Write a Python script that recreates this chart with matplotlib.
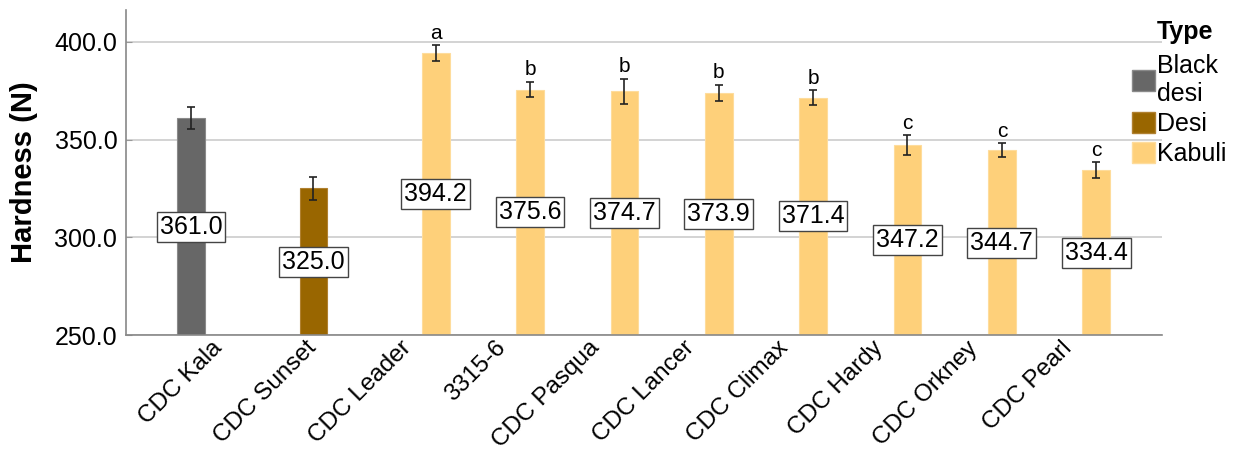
import numpy as np
import matplotlib.pyplot as plt
from matplotlib.patches import Patch

plt.rcParams['font.family'] = ['Liberation Sans', 'DejaVu Sans']

# hardness per cultivar
cultivars = ['CDC Kala', 'CDC Sunset', 'CDC Leader', '3315-6', 'CDC Pasqua',
             'CDC Lancer', 'CDC Climax', 'CDC Hardy', 'CDC Orkney', 'CDC Pearl']
types = ['Black desi', 'Desi', 'Kabuli', 'Kabuli', 'Kabuli',
         'Kabuli', 'Kabuli', 'Kabuli', 'Kabuli', 'Kabuli']
hardness = [361.0, 325.0, 394.2, 375.6, 374.7, 373.9, 371.4, 347.2, 344.7, 334.4]
err = [5.7, 5.8, 4.0, 4.0, 6.3, 4.0, 3.8, 5.0, 3.4, 4.0]
letters = ['', '', 'a', 'b', 'b', 'b', 'b', 'c', 'c', 'c']

type_names = ['Black desi', 'Desi', 'Kabuli']
type_colors = {'Black desi': '#676767', 'Desi': '#996600', 'Kabuli': '#FED07A'}
type_edges = {'Black desi': '#8a8a8a', 'Desi': '#b08030', 'Kabuli': '#fedc9c'}

base = 250.0
slot = 0.296

fig = plt.figure(figsize=(12.37, 4.54), dpi=100)
ax = fig.add_axes([0.1016, 0.2621, 0.8375, 0.716])

x = np.arange(len(cultivars))
for i, (t, h, e, lt) in enumerate(zip(types, hardness, err, letters)):
    # each cultivar gets three slots, the bar sits in its type's slot
    xi = x[i] + (type_names.index(t) - 1) * slot
    ax.bar(xi, h - base, bottom=base, width=0.293, color=type_colors[t],
           edgecolor=type_edges[t], linewidth=0.8, zorder=2)
    ax.errorbar(xi, h, yerr=e, fmt='none', ecolor='#222222', elinewidth=1.2,
                capsize=2.6, capthick=1.2, zorder=3)
    ax.text(xi, (h + base) / 2, f'{h:.1f}', ha='center', va='center', fontsize=18,
            bbox=dict(boxstyle='square,pad=0.12', fc='white', ec='#444444', lw=1),
            zorder=4)
    if lt:
        ax.annotate(lt, (xi, h + e), xytext=(0, 2), textcoords='offset points',
                    ha='center', va='bottom', fontsize=15, zorder=4)

ax.set_xlim(-0.99, 9.99)
ax.set_ylim(250, 416.4)
ax.set_yticks([250, 300, 350, 400])
ax.set_yticklabels([f'{v:.1f}' for v in [250, 300, 350, 400]], fontsize=18)
ax.set_xticks(x)
ax.set_xticklabels(cultivars, rotation=45, ha='right', va='center',
                   rotation_mode='anchor', fontsize=17.5)
ax.tick_params(axis='x', length=0, pad=7)
ax.tick_params(axis='y', direction='in', length=4, color='#999999', pad=6)
ax.yaxis.grid(True, color='#d0d0d0', linewidth=1.3, zorder=0)
ax.set_axisbelow(True)
for s in ['top', 'right']:
    ax.spines[s].set_visible(False)
for s in ['left', 'bottom']:
    ax.spines[s].set_color('#888888')
    ax.spines[s].set_linewidth(1.2)
ax.set_ylabel('Hardness (N)', fontsize=21, fontweight='bold', labelpad=12)

handles = [Patch(facecolor=type_colors[t], edgecolor=type_edges[t], linewidth=1)
           for t in type_names]
fig.text(1157 / 1237, 1 - 32 / 454, 'Type', fontsize=18, fontweight='bold',
         ha='left', va='center')
fig.legend(handles, ['Black\ndesi', 'Desi', 'Kabuli'], loc='upper left',
           bbox_to_anchor=(1132 / 1237, 1 - 54 / 454), frameon=False,
           fontsize=18, handlelength=0.9, handleheight=0.9,
           handletextpad=0.1, labelspacing=0.25, borderpad=0, borderaxespad=0)

fig.savefig('out.png', dpi=100)
